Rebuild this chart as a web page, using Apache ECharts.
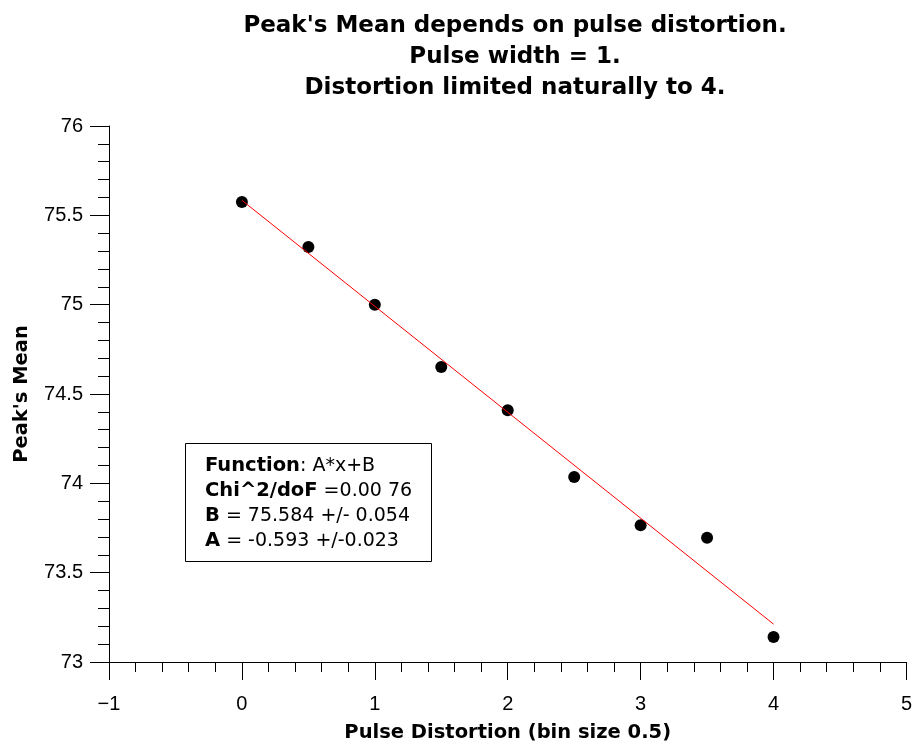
<!DOCTYPE html>
<html>
<head>
<meta charset="utf-8">
<script src="https://cdn.jsdelivr.net/npm/echarts@6/dist/echarts.min.js"></script>
<style>
html,body{margin:0;padding:0;background:#fff;}
#chart{width:915px;height:749px;}
</style>
</head>
<body>
<div id="chart"></div>
<script>
// Data
const distortion = [0, 0.5, 1, 1.5, 2, 2.5, 3, 3.5, 4];
const peakMean = [75.575, 75.323, 75.0, 74.651, 74.409, 74.035, 73.765, 73.696, 73.14];
const fitX = [0, 4];
const fitY = [75.584, 73.212];
const titleLines = ["Peak's Mean depends on pulse distortion.", "Pulse width = 1.", "Distortion limited naturally to 4."];
const xName = "Pulse Distortion (bin size 0.5)";
const yName = "Peak's Mean";
const fitInfo = [
  ["Function", ": A*x+B"],
  ["Chi^2/doF", " =0.00 76"],
  ["B", " = 75.584 +/- 0.054"],
  ["A", " = -0.593 +/-0.023"]
];

const BOLD = "DejaVu Sans";
const REG = "Liberation Sans";
const chart = echarts.init(document.getElementById('chart'), null, {renderer: 'canvas'});

const boxText = fitInfo.map(r => '{b|' + r[0] + '}{n|' + r[1] + '}').join('\n');

chart.setOption({
  animation: false,
  backgroundColor: '#fff',
  title: {
    text: titleLines.join('\n'),
    left: 510,
    top: 6,
    textAlign: 'center',
    textStyle: {fontFamily: BOLD, fontWeight: 'bold', fontSize: 23, color: '#000', lineHeight: 31}
  },
  grid: {left: 109, right: 7, top: 126, bottom: 87, containLabel: false},
  xAxis: {
    type: 'value', min: -1, max: 5, interval: 1,
    name: xName, nameLocation: 'middle', nameGap: 61,
    nameTextStyle: {fontFamily: BOLD, fontWeight: 'bold', fontSize: 19.5, color: '#000'},
    axisLine: {onZero: false, lineStyle: {color: '#000', width: 1}},
    axisTick: {inside: false, length: 18, lineStyle: {color: '#000'}},
    minorTick: {show: true, splitNumber: 5, length: 10, lineStyle: {color: '#000'}},
    splitLine: {show: false},
    axisLabel: {margin: 32, fontFamily: REG, fontSize: 20, color: '#000',
      formatter: v => String(v).replace('-', '\u2212')}
  },
  yAxis: {
    type: 'value', min: 73, max: 76, interval: 0.5,
    name: yName, nameLocation: 'middle', nameGap: 77, nameRotate: 90,
    nameTextStyle: {fontFamily: BOLD, fontWeight: 'bold', fontSize: 19.5, color: '#000'},
    axisLine: {show: true, onZero: false, lineStyle: {color: '#000', width: 1}},
    axisTick: {show: true, inside: false, length: 19, lineStyle: {color: '#000'}},
    minorTick: {show: true, splitNumber: 5, length: 11, lineStyle: {color: '#000'}},
    splitLine: {show: false},
    axisLabel: {margin: 26, fontFamily: REG, fontSize: 20, color: '#000'}
  },
  series: [
    {
      type: 'line',
      data: fitX.map((x, i) => [x, fitY[i]]),
      symbol: 'none',
      lineStyle: {color: '#ff0000', width: 1},
      z: 3
    },
    {
      type: 'scatter',
      data: distortion.map((x, i) => [x, peakMean[i]]),
      symbol: 'circle',
      symbolSize: 12,
      itemStyle: {color: '#000', opacity: 1},
      emphasis: {disabled: true},
      z: 2
    }
  ],
  graphic: [
    {
      type: 'rect',
      left: 185, top: 443,
      shape: {width: 246, height: 118},
      style: {fill: '#fff', stroke: '#000', lineWidth: 1},
      z: 10
    },
    {
      type: 'text',
      left: 205, top: 456,
      style: {
        text: boxText,
        rich: {
          b: {fontFamily: BOLD, fontWeight: 'bold', fontSize: 19.5, lineHeight: 25, fill: '#000'},
          n: {fontFamily: BOLD, fontSize: 19, lineHeight: 25, fill: '#000'}
        }
      },
      z: 11
    }
  ]
});
</script>
</body>
</html>
